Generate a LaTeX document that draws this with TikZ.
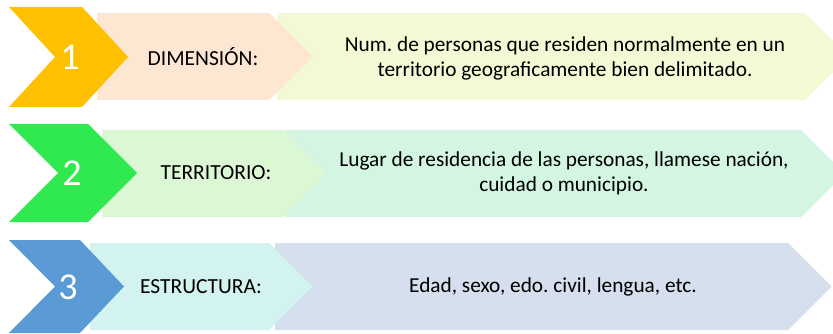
\documentclass[tikz,border=0pt]{standalone}
\usepackage{fontspec}
\setmainfont{Carlito}

\definecolor{gold}{HTML}{FFC000}
\definecolor{peach}{HTML}{FDE6D2}
\definecolor{paleolive}{HTML}{F3F9D4}
\definecolor{brightgreen}{HTML}{30E850}
\definecolor{palegreen}{HTML}{DCF7D3}
\definecolor{palemint}{HTML}{D3F5E1}
\definecolor{steelblue}{HTML}{5B9BD5}
\definecolor{palecyan}{HTML}{D3F3F1}
\definecolor{paleblue}{HTML}{D5DFEE}

\tikzset{
  band/.style={draw=white, line width=3.5pt, line join=miter},
  numtext/.style={text=white, font=\fontsize{38}{38}\selectfont},
  labeltext/.style={font=\fontsize{21.5}{24}\selectfont},
  desctext/.style={align=center, font=\fontsize{21.3}{25}\selectfont}
}

\begin{document}
\begin{tikzpicture}[x=1pt,y=-1pt]

  \useasboundingbox (0,0) rectangle (833,334);
  \clip (0,0) rectangle (833,334);

  % row 1
  \begin{scope}[band]
    \path[fill=paleolive] (277,13) -- (805,13) -- (848.5,56.5) -- (805,100) -- (277,100) -- cycle;
    \path[fill=peach] (97,13) -- (269,13) -- (312.5,56.5) -- (269,100) -- (97,100) -- cycle;
    \path[fill=gold] (9,7) -- (82,7) -- (128,57) -- (82,107) -- (9,107) -- (55,57) -- cycle;
  \end{scope}
  \node[numtext] (n1) at (70,57) {1};
  \node[labeltext] (l1) at (203,57) {DIMENSIÓN:};
  \node[desctext] (d1) at (565,58) {Num.\ de personas que residen normalmente en un\\ territorio geograficamente bien delimitado.};

  % row 2
  \begin{scope}[band]
    \path[fill=palemint] (285,130) -- (801,130) -- (844.5,173.5) -- (801,217) -- (285,217) -- cycle;
    \path[fill=palegreen] (102,130) -- (283,130) -- (326.5,173.5) -- (283,217) -- (102,217) -- cycle;
    \path[fill=brightgreen] (9,124) -- (88,124) -- (137,173) -- (88,222) -- (9,222) -- (58,173) -- cycle;
  \end{scope}
  \node[numtext] (n2) at (72,173) {2};
  \node[labeltext] (l2) at (216,173) {TERRITORIO:};
  \node[desctext] (d2) at (564,173) {Lugar de residencia de las personas, llamese nación,\\ cuidad o municipio.};

  % row 3
  \begin{scope}[band]
    \path[fill=paleblue] (275,243) -- (788,243) -- (831.5,286.5) -- (788,330) -- (275,330) -- cycle;
    \path[fill=palecyan] (90,243) -- (269,243) -- (312.5,286.5) -- (269,330) -- (90,330) -- cycle;
    \path[fill=steelblue] (9,240) -- (80,240) -- (124,286.5) -- (80,333) -- (9,333) -- (55,286.5) -- cycle;
  \end{scope}
  \node[numtext] (n3) at (68,287) {3};
  \node[labeltext] (l3) at (201,287) {ESTRUCTURA:};
  \node[desctext] (d3) at (553,287) {Edad, sexo, edo.\ civil, lengua, etc.};

\end{tikzpicture}
\end{document}
